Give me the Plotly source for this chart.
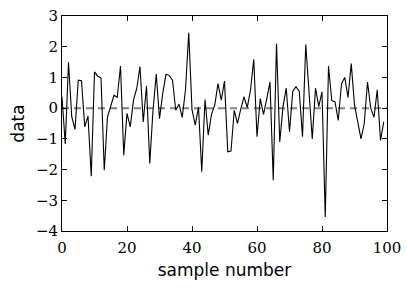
import plotly.graph_objects as go

sample = list(range(100))
data = [
    0.37, -1.17, 1.49, -0.28, -0.69, 0.91, 0.89, -0.61, -0.26, -2.22,
    1.18, 1.04, 0.99, -2.02, -0.28, 0.04, 0.42, 0.35, 1.37, -1.53,
    -0.17, -0.61, 0.26, 0.64, 1.35, -0.45, 0.72, -1.80, -0.07, 1.11,
    -0.34, 0.48, 1.10, 1.06, 0.91, -0.07, 0.13, -0.30, 0.60, 2.45,
    -0.05, -0.55, 0.04, -2.07, 0.28, -0.88, -0.20, 0.10, 0.80, 0.26,
    0.88, -1.42, -1.40, -0.07, -0.50, -0.03, 0.37, 0.02, 0.59, 1.59,
    -0.93, 0.31, -0.20, 0.30, 0.85, -2.35, 2.10, -1.10, 0.05, 0.65,
    -0.77, 0.55, 0.70, 0.55, -0.93, 2.07, 0.60, -1.00, 0.65, 0.05,
    0.53, -3.54, 1.37, 0.25, 0.20, -0.40, 0.80, 1.00, 0.35, 1.45,
    0.10, -0.40, -1.00, -0.50, 0.85, 0.00, -0.30, 0.60, -1.05, -0.45,
]
mean_x = [0, 100]
mean_y = [0, 0]
xticks = [0, 20, 40, 60, 80, 100]
yticks = [-4, -3, -2, -1, 0, 1, 2, 3]

fig = go.Figure()
fig.add_trace(go.Scatter(x=mean_x, y=mean_y, mode="lines",
                         line=dict(color="#808080", width=2, dash="7px,5px"), showlegend=False))
fig.add_trace(go.Scatter(x=sample, y=data, mode="lines",
                         line=dict(color="black", width=1.1), showlegend=False))

tickfont = dict(family="DejaVu Serif", size=15, color="black")
fig.update_layout(
    width=407, height=288,
    margin=dict(l=62, r=20, t=16, b=57),
    paper_bgcolor="white", plot_bgcolor="white",
    xaxis=dict(range=[0, 100], tickvals=xticks,
               ticktext=[str(v) for v in xticks],
               ticks="inside", ticklen=5, tickcolor="black", ticklabelstandoff=3,
               showline=True, linecolor="black", linewidth=1, mirror="ticks",
               showgrid=False, zeroline=False, tickfont=tickfont, automargin=False,
               title=dict(text="sample number", font=dict(family="DejaVu Sans", size=17, color="black"), standoff=8)),
    yaxis=dict(range=[-4, 3], tickvals=yticks,
               ticktext=[str(v).replace("-", "\u2212") for v in yticks],
               ticks="inside", ticklen=5, tickcolor="black",
               showline=True, linecolor="black", linewidth=1, mirror="ticks",
               showgrid=False, zeroline=False, tickfont=tickfont, automargin=False,
               title=dict(text="data", font=dict(family="DejaVu Sans", size=17, color="black"), standoff=6)),
)
fig.write_html("out.html", config={"displayModeBar": False},
               post_script="document.body.style.margin='0';")
